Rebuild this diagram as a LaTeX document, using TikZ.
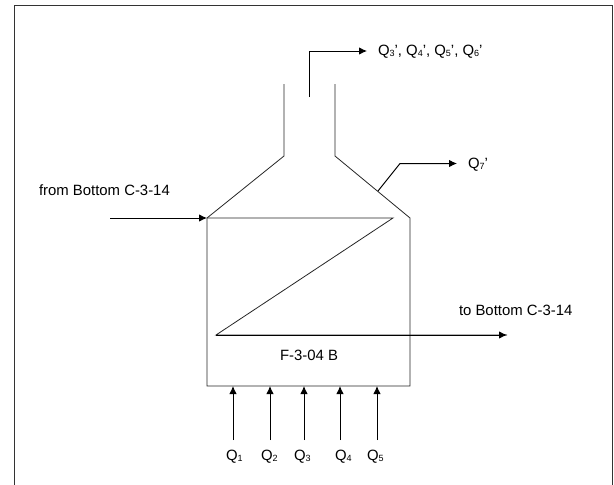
\documentclass[tikz,border=0pt]{standalone}
\usepackage{fontspec}
\setmainfont{Liberation Sans}
\usetikzlibrary{arrows.meta}
\newcommand{\sbs}[1]{\raisebox{-0.2ex}{\fontsize{9}{10}\selectfont #1}}
\newcommand{\Qq}[1]{Q\sbs{#1}}
\tikzset{
  x=1pt,y=-1pt,
  line/.style={draw=black!85,line width=0.8pt,line join=miter},
  frameline/.style={draw=black!80,line width=1pt},
  flow/.style={draw=black,line width=1pt,-{Latex[length=8pt,width=7.5pt]}},
  lab/.style={inner sep=0pt,outer sep=0pt,anchor=base west,font=\fontsize{14.9}{16}\selectfont}
}
\begin{document}
\begin{tikzpicture}
\useasboundingbox (0,0) rectangle (614,485);
% frame
\coordinate (fbl) at (14,485); \coordinate (ftl) at (14,5);
\coordinate (ftr) at (612,5); \coordinate (fbr) at (612,485);
\draw[frameline] (fbl) -- (ftl) -- (ftr) -- (fbr);
% vessel
\coordinate (vtl) at (207,218); \coordinate (vbl) at (207,386);
\coordinate (vbr) at (410,386); \coordinate (vtr) at (410,218);
\coordinate (nl) at (284,156); \coordinate (nlt) at (284,84);
\coordinate (nr) at (335,156); \coordinate (nrt) at (335,84);
\draw[line] (nlt) -- (nl) -- (vtl) -- (vbl) -- (vbr) -- (vtr) -- (nr) -- (nrt);
% coil
\coordinate (c1) at (393,218); \coordinate (c2) at (216,335);
\coordinate (coilout) at (507,335);
\draw[line] (vtl) -- (c1) -- (c2) -- (coilout);
\draw[flow] (c2) -- (coilout);
% inlet
\coordinate (inl) at (110,218);
\draw[flow] (inl) -- (vtl);
% top outlet
\coordinate (p1) at (309,97); \coordinate (p2) at (309,51); \coordinate (p3) at (367,51);
\draw[flow] (p1) -- (p2) -- (p3);
% side outlet
\coordinate (s1) at (378,191); \coordinate (s2) at (400,163.5); \coordinate (s3) at (457,163.5);
\draw[flow] (s1) -- (s2) -- (s3);
% bottom feeds
\foreach \n/\x in {1/233,2/270,3/304,4/340,5/377}{
  \coordinate (qs\n) at (\x,440);
  \coordinate (qe\n) at (\x,386);
  \draw[flow] (qs\n) -- (qe\n);
}
% labels
\node[lab] (lfrom) at (39,195) {from Bottom C-3-14};
\node[lab] (lto) at (459,315) {to Bottom C-3-14};
\node[lab] (lf) at (280,360) {F-3-04 B};
\node[lab] (ltop) at (378,55) {\Qq{3}', \Qq{4}', \Qq{5}', \Qq{6}'};
\node[lab] (lq7) at (468,168) {\Qq{7}'};
\node[lab] (lq1) at (226,460) {\Qq{1}};
\node[lab] (lq2) at (261,460) {\Qq{2}};
\node[lab] (lq3) at (294,460) {\Qq{3}};
\node[lab] (lq4) at (335,460) {\Qq{4}};
\node[lab] (lq5) at (367,460) {\Qq{5}};
\end{tikzpicture}
\end{document}
